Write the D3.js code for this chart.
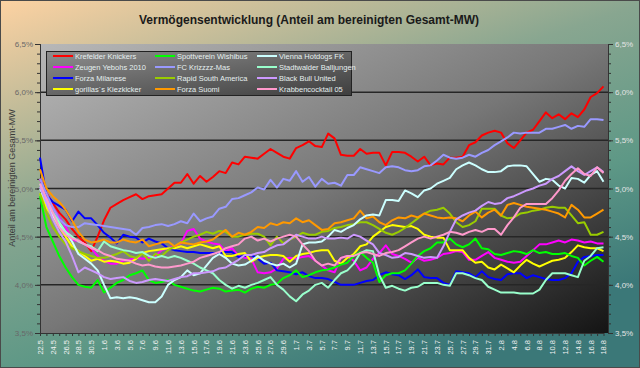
<!DOCTYPE html>
<html>
<head>
<meta charset="utf-8">
<script src="https://cdn.jsdelivr.net/npm/d3@7/dist/d3.min.js"></script>
<style>
  html, body { margin: 0; padding: 0; background: #fff; }
  #chart { width: 640px; height: 368px; }
  text { font-family: "Liberation Sans", Arial, sans-serif; }
</style>
</head>
<body>
<div id="chart"></div>
<script>
// Tage (Kategorien) 22.5. bis 18.8.
const dates = [
  "22.5","23.5","24.5","25.5","26.5","27.5","28.5","29.5","30.5","31.5",
  "1.6","2.6","3.6","4.6","5.6","6.6","7.6","8.6","9.6","10.6",
  "11.6","12.6","13.6","14.6","15.6","16.6","17.6","18.6","19.6","20.6",
  "21.6","22.6","23.6","24.6","25.6","26.6","27.6","28.6","29.6","30.6",
  "1.7","2.7","3.7","4.7","5.7","6.7","7.7","8.7","9.7","10.7",
  "11.7","12.7","13.7","14.7","15.7","16.7","17.7","18.7","19.7","20.7",
  "21.7","22.7","23.7","24.7","25.7","26.7","27.7","28.7","29.7","30.7",
  "31.7","1.8","2.8","3.8","4.8","5.8","6.8","7.8","8.8","9.8",
  "10.8","11.8","12.8","13.8","14.8","15.8","16.8","17.8","18.8"
];

const yTicks = [3.5, 4.0, 4.5, 5.0, 5.5, 6.0, 6.5];

const krefelder = [
  5.10,4.95,4.85,4.75,4.68,4.58,4.50,4.44,4.35,4.50,
  4.67,4.80,4.84,4.88,4.91,4.94,4.89,4.92,4.93,4.94,
  5.00,5.06,5.06,5.15,5.05,5.13,5.07,5.12,5.18,5.16,
  5.27,5.25,5.33,5.32,5.31,5.36,5.41,5.37,5.33,5.31,
  5.42,5.45,5.49,5.44,5.43,5.57,5.52,5.35,5.34,5.34,
  5.41,5.36,5.37,5.37,5.24,5.38,5.38,5.37,5.33,5.28,
  5.33,5.24,5.26,5.25,5.32,5.32,5.33,5.45,5.48,5.55,
  5.58,5.60,5.58,5.47,5.42,5.50,5.58,5.61,5.70,5.79,
  5.73,5.77,5.72,5.78,5.74,5.82,5.95,5.99,6.06
];
const zeugen = [
  5.10,4.95,4.80,4.70,4.60,4.47,4.45,4.42,4.38,4.30,
  4.25,4.22,4.22,4.25,4.26,4.28,4.27,4.28,4.30,4.36,
  4.38,4.40,4.43,4.56,4.58,4.48,4.45,4.43,4.42,4.35,
  4.38,4.30,4.28,4.27,4.13,4.12,4.13,4.17,4.27,4.28,
  4.27,4.29,4.30,4.25,4.20,4.15,4.13,4.28,4.30,4.25,
  4.15,4.18,4.27,4.33,4.41,4.32,4.30,4.27,4.23,4.28,
  4.25,4.26,4.28,4.32,4.33,4.35,4.34,4.26,4.26,4.30,
  4.34,4.28,4.26,4.24,4.23,4.24,4.30,4.36,4.42,4.42,
  4.44,4.46,4.44,4.47,4.46,4.44,4.45,4.43,4.43
];
const forzaMilanese = [
  5.32,4.93,4.86,4.82,4.78,4.66,4.76,4.69,4.69,4.62,
  4.54,4.49,4.43,4.52,4.50,4.49,4.44,4.48,4.45,4.43,
  4.38,4.36,4.35,4.34,4.34,4.33,4.33,4.33,4.33,4.34,
  4.34,4.29,4.30,4.31,4.27,4.22,4.23,4.15,4.14,4.13,
  4.11,4.13,4.09,4.07,4.07,4.06,4.03,4.00,4.00,4.00,
  4.02,4.04,4.05,4.10,4.13,4.11,4.10,4.06,4.10,4.16,
  4.08,4.07,4.07,4.02,4.00,4.14,4.13,4.12,4.08,4.14,
  4.08,4.06,4.05,4.11,4.12,4.12,4.07,4.10,4.08,4.06,
  4.05,4.05,4.07,4.12,4.24,4.29,4.30,4.31,4.31
];
const gorillas = [
  4.95,4.80,4.70,4.60,4.50,4.40,4.35,4.30,4.25,4.27,
  4.24,4.25,4.24,4.22,4.23,4.27,4.33,4.35,4.36,4.37,
  4.38,4.38,4.40,4.38,4.40,4.42,4.40,4.38,4.40,4.30,
  4.30,4.32,4.33,4.24,4.28,4.30,4.31,4.31,4.30,4.24,
  4.30,4.32,4.33,4.35,4.36,4.36,4.25,4.22,4.28,4.32,
  4.40,4.42,4.50,4.55,4.60,4.62,4.61,4.60,4.61,4.58,
  4.52,4.50,4.49,4.49,4.36,4.36,4.36,4.28,4.23,4.24,
  4.18,4.16,4.21,4.17,4.13,4.20,4.26,4.22,4.19,4.22,
  4.25,4.26,4.28,4.34,4.41,4.39,4.38,4.38,4.35
];
const spottverein = [
  4.92,4.60,4.45,4.30,4.18,4.08,4.00,3.98,3.97,4.05,
  3.92,3.97,4.02,4.05,4.10,4.12,4.15,4.05,4.02,4.03,
  4.05,4.00,3.98,3.96,3.94,3.93,3.95,3.97,3.96,3.93,
  3.94,3.95,3.92,3.96,3.98,3.97,4.00,4.01,4.07,4.10,
  4.15,4.08,4.10,4.13,4.15,4.16,4.18,4.21,4.23,4.30,
  4.34,4.28,4.23,4.03,4.10,4.12,4.12,4.15,4.22,4.30,
  4.35,4.38,4.44,4.44,4.48,4.42,4.39,4.42,4.48,4.38,
  4.37,4.32,4.31,4.33,4.35,4.34,4.32,4.36,4.33,4.34,
  4.32,4.32,4.33,4.30,4.28,4.20,4.25,4.29,4.24
];
const fcKrizzzz = [
  5.10,4.95,4.80,4.68,4.62,4.60,4.60,4.64,4.63,4.62,
  4.61,4.60,4.59,4.58,4.57,4.52,4.59,4.60,4.62,4.63,
  4.61,4.63,4.66,4.64,4.74,4.66,4.69,4.71,4.79,4.81,
  4.89,4.90,4.93,4.96,5.01,4.99,5.09,5.01,5.10,5.08,
  5.18,5.07,5.12,5.02,5.10,5.05,5.06,5.03,5.14,5.14,
  5.22,5.20,5.18,5.16,5.22,5.23,5.22,5.19,5.18,5.19,
  5.23,5.24,5.29,5.35,5.32,5.31,5.32,5.35,5.33,5.37,
  5.40,5.45,5.49,5.53,5.58,5.57,5.58,5.58,5.58,5.62,
  5.62,5.64,5.66,5.62,5.65,5.64,5.72,5.72,5.71
];
const rapid = [
  4.95,4.75,4.60,4.50,4.42,4.38,4.35,4.32,4.30,4.28,
  4.28,4.30,4.32,4.35,4.30,4.28,4.33,4.25,4.32,4.30,
  4.36,4.40,4.44,4.47,4.50,4.52,4.55,4.53,4.56,4.55,
  4.50,4.50,4.52,4.53,4.53,4.50,4.41,4.50,4.43,4.47,
  4.50,4.54,4.52,4.52,4.55,4.56,4.59,4.60,4.62,4.63,
  4.65,4.65,4.62,4.58,4.54,4.52,4.55,4.59,4.64,4.69,
  4.74,4.77,4.78,4.80,4.74,4.65,4.60,4.62,4.66,4.79,
  4.79,4.79,4.72,4.69,4.70,4.74,4.75,4.77,4.78,4.80,
  4.81,4.80,4.80,4.72,4.64,4.65,4.52,4.52,4.55
];
const forzaSuomi = [
  5.20,5.00,4.92,4.86,4.78,4.67,4.55,4.47,4.44,4.45,
  4.47,4.44,4.44,4.47,4.45,4.44,4.47,4.40,4.42,4.44,
  4.45,4.40,4.44,4.43,4.42,4.44,4.45,4.47,4.52,4.57,
  4.50,4.54,4.52,4.55,4.60,4.59,4.64,4.62,4.65,4.64,
  4.69,4.65,4.67,4.62,4.57,4.58,4.64,4.65,4.67,4.69,
  4.77,4.69,4.71,4.65,4.62,4.67,4.70,4.69,4.72,4.70,
  4.74,4.72,4.70,4.69,4.70,4.69,4.66,4.72,4.76,4.70,
  4.75,4.78,4.72,4.83,4.85,4.83,4.81,4.80,4.79,4.78,
  4.76,4.74,4.70,4.83,4.78,4.70,4.70,4.74,4.78
];
const vienna = [
  5.00,4.85,4.72,4.62,4.55,4.45,4.32,4.27,4.22,4.15,
  4.00,3.86,3.87,3.86,3.87,3.86,3.84,3.82,3.82,3.88,
  4.00,4.05,4.08,4.15,4.10,4.12,4.20,4.28,4.32,4.28,
  4.22,4.20,4.21,4.25,4.30,4.25,4.22,4.20,4.22,4.18,
  4.22,4.42,4.44,4.44,4.45,4.50,4.57,4.55,4.59,4.62,
  4.68,4.72,4.73,4.72,4.88,4.88,4.87,4.98,4.95,4.91,
  4.98,5.00,5.05,5.08,5.11,5.20,5.24,5.27,5.24,5.20,
  5.17,5.17,5.18,5.23,5.24,5.24,5.23,5.15,5.07,5.10,
  5.09,5.03,5.00,5.11,5.10,5.06,5.14,5.18,5.07
];
const stadtwalder = [
  5.05,4.88,4.75,4.65,4.55,4.50,4.45,4.42,4.40,4.35,
  4.45,4.40,4.38,4.36,4.35,4.33,4.34,4.30,4.28,4.30,
  4.28,4.30,4.28,4.25,4.22,4.18,4.15,4.12,4.05,4.00,
  3.96,3.99,3.97,4.00,4.02,4.05,4.08,4.00,3.95,3.88,
  3.83,3.90,3.94,4.00,4.02,3.97,4.05,4.12,4.15,4.22,
  4.33,4.36,4.35,4.10,3.97,3.99,3.96,3.94,3.97,3.98,
  4.02,4.02,4.02,4.00,3.99,4.12,4.12,4.10,4.07,4.05,
  3.98,3.95,3.92,3.92,3.92,3.91,3.91,3.91,3.95,4.05,
  4.12,4.12,4.12,4.10,4.08,4.25,4.30,4.38,4.39
];
const blackBull = [
  5.02,4.85,4.68,4.55,4.45,4.30,4.13,4.18,4.15,4.12,
  4.08,4.06,4.07,4.08,4.04,4.02,4.03,4.05,4.06,4.05,
  4.04,4.06,4.08,4.09,4.12,4.12,4.13,4.14,4.17,4.18,
  4.22,4.26,4.31,4.31,4.33,4.34,4.38,4.41,4.42,4.47,
  4.52,4.50,4.48,4.48,4.50,4.48,4.48,4.49,4.48,4.52,
  4.50,4.46,4.42,4.33,4.31,4.28,4.29,4.33,4.32,4.30,
  4.28,4.29,4.28,4.40,4.55,4.68,4.72,4.75,4.77,4.82,
  4.86,4.84,4.85,4.90,4.92,4.95,4.98,5.00,5.03,5.05,
  5.10,5.13,5.18,5.23,5.18,5.14,5.18,5.22,5.17
];
const krabben = [
  5.05,4.90,4.75,4.60,4.52,4.48,4.46,4.42,4.38,4.36,
  4.32,4.30,4.27,4.26,4.25,4.22,4.20,4.21,4.19,4.18,
  4.18,4.19,4.20,4.22,4.24,4.28,4.30,4.32,4.34,4.38,
  4.40,4.42,4.48,4.50,4.46,4.48,4.45,4.48,4.50,4.52,
  4.50,4.42,4.35,4.25,4.20,4.22,4.20,4.28,4.30,4.30,
  4.33,4.34,4.32,4.30,4.33,4.34,4.36,4.40,4.44,4.48,
  4.50,4.48,4.50,4.52,4.55,4.54,4.52,4.55,4.57,4.55,
  4.58,4.58,4.52,4.62,4.70,4.80,4.84,4.84,4.84,4.84,
  4.90,4.98,5.08,5.15,5.21,5.15,5.13,5.22,5.16
];

const teams = [
  "Krefelder Knickers", "Zeugen Yebohs 2010", "Forza Milanese", "gorillas´s Kiezkicker",
  "Spottverein Wishibus", "FC Krizzzz-Mas", "Rapid South America", "Forza Suomi",
  "Vienna Hotdogs FK", "Stadtwalder Balljungen", "Black Bull United", "Krabbencocktail 05"
];
const teamValues = [krefelder, zeugen, forzaMilanese, gorillas, spottverein, fcKrizzzz,
  rapid, forzaSuomi, vienna, stadtwalder, blackBull, krabben];
const teamColors = ["#ff0000", "#ff00ff", "#0000ff", "#ffff00", "#00ff00", "#9999ff",
  "#99cc00", "#ff9900", "#ccffff", "#99ffcc", "#cc99ff", "#ff99cc"];

const width = 640, height = 368;
const plot = { left: 40, right: 608, top: 44, bottom: 333 };

const svg = d3.select('#chart').append('svg')
  .attr('width', width)
  .attr('height', height);

const defs = svg.append('defs');
const bgGrad = defs.append('linearGradient')
  .attr('id', 'bgGrad')
  .attr('x1', 0).attr('y1', 0).attr('x2', 0.6).attr('y2', 1);
bgGrad.append('stop').attr('offset', 0).attr('stop-color', '#fdd2a2');
bgGrad.append('stop').attr('offset', 0.45).attr('stop-color', '#88a690');
bgGrad.append('stop').attr('offset', 0.75).attr('stop-color', '#5e9886');
bgGrad.append('stop').attr('offset', 1).attr('stop-color', '#3b7878');

const plotGrad = defs.append('linearGradient')
  .attr('id', 'plotGrad')
  .attr('x1', 0).attr('y1', 0).attr('x2', 1).attr('y2', 1);
plotGrad.append('stop').attr('offset', 0).attr('stop-color', '#b8b8b8');
plotGrad.append('stop').attr('offset', 0.5).attr('stop-color', '#777777');
plotGrad.append('stop').attr('offset', 1).attr('stop-color', '#141414');

const legGrad = defs.append('linearGradient')
  .attr('id', 'legGrad')
  .attr('x1', 0).attr('y1', 0).attr('x2', 1).attr('y2', 1);
legGrad.append('stop').attr('offset', 0).attr('stop-color', '#8e8e8e');
legGrad.append('stop').attr('offset', 1).attr('stop-color', '#3e3e3e');

// Hintergrund
svg.append('rect')
  .attr('x', 0.5).attr('y', 0.5)
  .attr('width', width - 1).attr('height', height - 1)
  .attr('fill', 'url(#bgGrad)')
  .attr('stroke', '#4a4a4a');

svg.append('rect')
  .attr('x', plot.left).attr('y', plot.top)
  .attr('width', plot.right - plot.left).attr('height', plot.bottom - plot.top)
  .attr('fill', 'url(#plotGrad)');

// Skalen
const x = d3.scalePoint()
  .domain(dates)
  .range([plot.left, 603.5]);

const y = d3.scaleLinear()
  .domain([3.5, 6.5])
  .range([plot.bottom, plot.top]);

const pct = d => d3.format('.1f')(d).replace('.', ',') + '%';

// Gitterlinien
svg.append('g')
  .selectAll('line')
  .data(yTicks.slice(1, -1))
  .enter()
  .append('line')
  .attr('x1', plot.left).attr('x2', plot.right)
  .attr('y1', d => y(d)).attr('y2', d => y(d))
  .attr('stroke', '#262626')
  .attr('stroke-width', 1.5);

// Achsen
const minorTicks = d3.range(35, 66).map(d => d / 10);

const leftMinor = svg.append('g')
  .attr('transform', `translate(${plot.left},0)`)
  .call(d3.axisLeft(y).tickValues(minorTicks).tickSize(3).tickFormat(''));
const leftAxis = svg.append('g')
  .attr('transform', `translate(${plot.left},0)`)
  .call(d3.axisLeft(y).tickValues(yTicks).tickSize(5).tickPadding(2).tickFormat(pct));
leftAxis.selectAll('text')
  .attr('fill', '#686868')
  .style('font-size', '8px');

const rightMinor = svg.append('g')
  .attr('transform', `translate(${plot.right},0)`)
  .call(d3.axisRight(y).tickValues(minorTicks).tickSize(3).tickFormat(''));
const rightAxis = svg.append('g')
  .attr('transform', `translate(${plot.right},0)`)
  .call(d3.axisRight(y).tickValues(yTicks).tickSize(5).tickPadding(2).tickFormat(pct));
rightAxis.selectAll('text')
  .attr('fill', '#e4e4e4')
  .style('font-size', '8px');

const xAxis = svg.append('g')
  .attr('transform', `translate(0,${plot.bottom})`)
  .call(d3.axisBottom(x).tickSize(3).tickSizeOuter(0)
    .tickFormat((d, i) => i % 2 === 0 ? d : ''));
xAxis.selectAll('text')
  .attr('fill', '#f2f2f2')
  .style('font-size', '7.5px')
  .attr('text-anchor', 'end')
  .attr('transform', 'rotate(-90)')
  .attr('x', -7)
  .attr('y', 0)
  .attr('dy', '0.32em');

[leftMinor, leftAxis, rightMinor, rightAxis, xAxis].forEach(a => {
  a.select('.domain').attr('stroke', '#333');
  a.selectAll('.tick line').attr('stroke', '#333');
});

// Linien
const line = d3.line()
  .x((d, i) => x(dates[i]))
  .y(d => y(d));

svg.append('g')
  .selectAll('path')
  .data(teamValues)
  .enter()
  .append('path')
  .attr('d', line)
  .attr('fill', 'none')
  .attr('stroke', (d, i) => teamColors[i])
  .attr('stroke-width', 2)
  .attr('stroke-linejoin', 'round');

// Legende
const legend = svg.append('g');
legend.append('rect')
  .attr('x', 46.5).attr('y', 51.5)
  .attr('width', 305).attr('height', 44)
  .attr('fill', 'url(#legGrad)')
  .attr('stroke', '#222');

const legendOrder = [0, 4, 8, 1, 5, 9, 2, 6, 10, 3, 7, 11];
legendOrder.forEach((t, k) => {
  const col = k % 3, row = Math.floor(k / 3);
  const lx = 53 + col * 102;
  const ly = 56 + row * 11;
  legend.append('line')
    .attr('x1', lx).attr('x2', lx + 20)
    .attr('y1', ly).attr('y2', ly)
    .attr('stroke', teamColors[t])
    .attr('stroke-width', 2);
  legend.append('text')
    .attr('x', lx + 22).attr('y', ly)
    .attr('dy', '0.35em')
    .attr('fill', '#e6f0f0')
    .style('font-size', '7.5px')
    .text(teams[t]);
});

// Titel
svg.append('text')
  .attr('x', 309).attr('y', 20)
  .attr('dy', '0.35em')
  .attr('text-anchor', 'middle')
  .attr('fill', '#1a1a1a')
  .style('font-size', '12px')
  .style('font-weight', 'bold')
  .text('Vermögensentwicklung (Anteil am bereinigten Gesamt-MW)');

svg.append('text')
  .attr('transform', 'translate(12,178) rotate(-90)')
  .attr('dy', '0.35em')
  .attr('text-anchor', 'middle')
  .attr('fill', '#3a3a3a')
  .style('font-size', '9px')
  .text('Anteil am bereinigten Gesamt-MW');
</script>
</body>
</html>
